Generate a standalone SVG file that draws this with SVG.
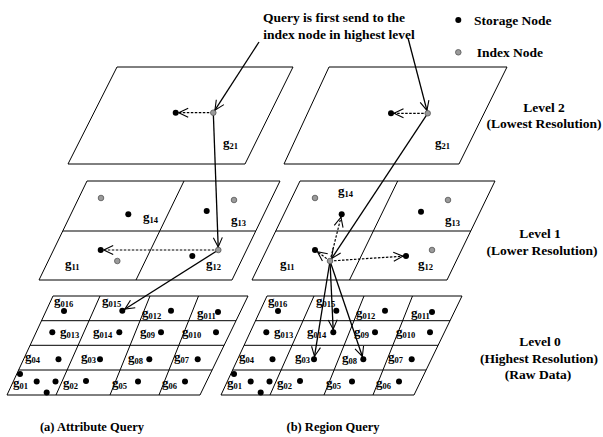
<svg xmlns="http://www.w3.org/2000/svg" width="603" height="437" viewBox="0 0 603 437">
<style>
text{font-family:"Liberation Serif","Times New Roman",serif;font-weight:bold;fill:#000}
.t{font-size:13.5px}
.cap{font-size:12.5px}
.g{font-size:13px}
.s{font-size:8.5px}
.pl{fill:none;stroke:#000;stroke-width:1}
.mid{stroke:#808080;stroke-width:1.8}
.sol{fill:none;stroke:#000;stroke-width:1.3;marker-end:url(#ah)}
.das{fill:none;stroke:#000;stroke-width:1.2;stroke-dasharray:2.5 1.5;marker-end:url(#ah)}
.st{fill:#000}
.ix{fill:#9a9a9a;stroke:#555;stroke-width:0.8}
</style>
<defs>
<marker id="ah" markerUnits="userSpaceOnUse" orient="auto" overflow="visible" markerWidth="1" markerHeight="1" refX="0" refY="0">
<path d="M-12.5,-4.5 L-3,0 L-12.5,4.5" fill="none" stroke="#000" stroke-width="1.1"/>
</marker>
</defs>
<rect width="603" height="437" fill="#fff"/>

<!-- planes -->
<g id="plane-a-l2">
<polygon class="pl" points="117,67 293,67 245,164 68,164"/>
<text class="g" x="223" y="147">g<tspan class="s" dy="2">21</tspan></text>
</g>
<g id="plane-b-l2">
<polygon class="pl" points="329,67 507,67 459,164 284,164"/>
<text class="g" x="435" y="147">g<tspan class="s" dy="2">21</tspan></text>
</g>
<g id="plane-a-l1">
<line class="mid" x1="62.8" y1="231" x2="255.8" y2="231"/>
<polygon class="pl" points="87,181 280,181 232,280 39,280"/>
<line class="pl" x1="184" y1="181" x2="136" y2="280"/>
<text class="g" x="143" y="221">g<tspan class="s" dy="2">14</tspan></text>
<text class="g" x="231" y="224">g<tspan class="s" dy="2">13</tspan></text>
<text class="g" x="65" y="268">g<tspan class="s" dy="2">11</tspan></text>
<text class="g" x="206" y="268">g<tspan class="s" dy="2">12</tspan></text>
</g>
<g id="plane-b-l1">
<line class="mid" x1="275.8" y1="231" x2="470.8" y2="231"/>
<polygon class="pl" points="300,181 495,181 447,280 252,280"/>
<line class="pl" x1="397.7" y1="181" x2="349.5" y2="280"/>
<text class="g" x="338" y="195">g<tspan class="s" dy="2">14</tspan></text>
<text class="g" x="445" y="224">g<tspan class="s" dy="2">13</tspan></text>
<text class="g" x="280" y="268">g<tspan class="s" dy="2">11</tspan></text>
<text class="g" x="418" y="268">g<tspan class="s" dy="2">12</tspan></text>
</g>
<g id="plane-a-l0">
<polygon class="pl" points="53,296 248,296 200,395 7,395"/>
<line class="pl" x1="41.5" y1="320.7" x2="236" y2="320.7"/>
<line class="pl" x1="30.1" y1="345.3" x2="224.1" y2="345.3"/>
<line class="pl" x1="18.6" y1="370" x2="212.1" y2="370"/>
<line class="pl" x1="100" y1="296" x2="56" y2="395"/>
<line class="pl" x1="150" y1="296" x2="110" y2="395"/>
<line class="pl" x1="198.5" y1="296" x2="159" y2="395"/>
<text class="g" x="54" y="305">g<tspan class="s" dy="2">016</tspan></text>
<text class="g" x="102" y="305">g<tspan class="s" dy="2">015</tspan></text>
<text class="g" x="142" y="317">g<tspan class="s" dy="2">012</tspan></text>
<text class="g" x="197" y="317">g<tspan class="s" dy="2">011</tspan></text>
<text class="g" x="60" y="336">g<tspan class="s" dy="2">013</tspan></text>
<text class="g" x="93" y="336">g<tspan class="s" dy="2">014</tspan></text>
<text class="g" x="140" y="336">g<tspan class="s" dy="2">09</tspan></text>
<text class="g" x="182" y="336">g<tspan class="s" dy="2">010</tspan></text>
<text class="g" x="25" y="361">g<tspan class="s" dy="2">04</tspan></text>
<text class="g" x="81" y="361">g<tspan class="s" dy="2">03</tspan></text>
<text class="g" x="128" y="362">g<tspan class="s" dy="2">08</tspan></text>
<text class="g" x="174" y="361">g<tspan class="s" dy="2">07</tspan></text>
<text class="g" x="13" y="387">g<tspan class="s" dy="2">01</tspan></text>
<text class="g" x="63" y="387">g<tspan class="s" dy="2">02</tspan></text>
<text class="g" x="112" y="387">g<tspan class="s" dy="2">05</tspan></text>
<text class="g" x="162" y="387">g<tspan class="s" dy="2">06</tspan></text>
</g>
<g id="plane-b-l0">
<polygon class="pl" points="267,296 462,296 414,395 221,395"/>
<line class="pl" x1="255.5" y1="320.7" x2="450" y2="320.7"/>
<line class="pl" x1="244.1" y1="345.3" x2="438.1" y2="345.3"/>
<line class="pl" x1="232.6" y1="370" x2="426.1" y2="370"/>
<line class="pl" x1="314" y1="296" x2="270" y2="395"/>
<line class="pl" x1="364" y1="296" x2="324" y2="395"/>
<line class="pl" x1="412.5" y1="296" x2="373" y2="395"/>
<text class="g" x="268" y="305">g<tspan class="s" dy="2">016</tspan></text>
<text class="g" x="316" y="305">g<tspan class="s" dy="2">015</tspan></text>
<text class="g" x="356" y="317">g<tspan class="s" dy="2">012</tspan></text>
<text class="g" x="411" y="317">g<tspan class="s" dy="2">011</tspan></text>
<text class="g" x="274" y="336">g<tspan class="s" dy="2">013</tspan></text>
<text class="g" x="307" y="336">g<tspan class="s" dy="2">014</tspan></text>
<text class="g" x="354" y="336">g<tspan class="s" dy="2">09</tspan></text>
<text class="g" x="396" y="336">g<tspan class="s" dy="2">010</tspan></text>
<text class="g" x="239" y="361">g<tspan class="s" dy="2">04</tspan></text>
<text class="g" x="295" y="361">g<tspan class="s" dy="2">03</tspan></text>
<text class="g" x="342" y="362">g<tspan class="s" dy="2">08</tspan></text>
<text class="g" x="388" y="361">g<tspan class="s" dy="2">07</tspan></text>
<text class="g" x="227" y="387">g<tspan class="s" dy="2">01</tspan></text>
<text class="g" x="277" y="387">g<tspan class="s" dy="2">02</tspan></text>
<text class="g" x="326" y="387">g<tspan class="s" dy="2">05</tspan></text>
<text class="g" x="376" y="387">g<tspan class="s" dy="2">06</tspan></text>
</g>

<!-- connectors -->
<g id="connectors">
<line class="sol" x1="259" y1="42" x2="213.3" y2="112.7"/>
<line class="das" x1="213.3" y1="112.7" x2="175.7" y2="112.7"/>
<line class="sol" x1="213.3" y1="112.7" x2="218.3" y2="250"/>
<line class="das" x1="218.3" y1="250" x2="100.7" y2="250"/>
<line class="sol" x1="218.3" y1="250" x2="122.3" y2="310.7"/>
<line class="sol" x1="408" y1="38" x2="427.7" y2="113.3"/>
<line class="das" x1="427.7" y1="113.3" x2="391" y2="113.3"/>
<line class="sol" x1="427.7" y1="113.3" x2="330" y2="261"/>
<line class="das" x1="330" y1="261" x2="341.7" y2="214.3"/>
<line class="das" x1="330" y1="261" x2="315" y2="250"/>
<line class="das" x1="330" y1="261" x2="406" y2="256"/>
<line class="sol" x1="330" y1="261" x2="314" y2="359.3"/>
<line class="sol" x1="330" y1="261" x2="333.3" y2="332.3"/>
<line class="sol" x1="330" y1="261" x2="363.3" y2="359.3"/>
</g>

<!-- nodes level 2 -->
<g id="a2-storage"><circle class="st" cx="175.7" cy="112.7" r="3"/></g>
<g id="a2-index"><circle class="ix" cx="213.3" cy="112.7" r="2.8"/></g>
<g id="b2-storage"><circle class="st" cx="391" cy="113.3" r="3"/></g>
<g id="b2-index"><circle class="ix" cx="427.7" cy="113.3" r="2.8"/></g>
<!-- nodes level 1 (a) -->
<g id="a1-g14-index"><circle class="ix" cx="101" cy="198" r="2.8"/></g>
<g id="a1-g14-storage"><circle class="st" cx="128.3" cy="214.3" r="3"/></g>
<g id="a1-g13-storage"><circle class="st" cx="206.7" cy="211" r="3"/></g>
<g id="a1-g13-index"><circle class="ix" cx="234" cy="200" r="2.8"/></g>
<g id="a1-g11-storage"><circle class="st" cx="100.7" cy="250" r="3"/></g>
<g id="a1-g11-index"><circle class="ix" cx="117.3" cy="261" r="2.8"/></g>
<g id="a1-g12-storage"><circle class="st" cx="192.3" cy="256" r="3"/></g>
<g id="a1-g12-index"><circle class="ix" cx="218.3" cy="250" r="2.8"/></g>
<!-- nodes level 1 (b) -->
<g id="b1-g14-index"><circle class="ix" cx="315" cy="198" r="2.8"/></g>
<g id="b1-g14-storage"><circle class="st" cx="341.7" cy="214.3" r="3"/></g>
<g id="b1-g13-storage"><circle class="st" cx="421" cy="211.7" r="3"/></g>
<g id="b1-g13-index"><circle class="ix" cx="448" cy="200" r="2.8"/></g>
<g id="b1-g11-storage"><circle class="st" cx="315" cy="250" r="3"/></g>
<g id="b1-g11-index"><circle class="ix" cx="330" cy="261" r="2.8"/></g>
<g id="b1-g12-storage"><circle class="st" cx="406" cy="256" r="3"/></g>
<g id="b1-g12-index"><circle class="ix" cx="432" cy="250" r="2.8"/></g>
<!-- nodes level 0 (a) -->
<g id="a0-nodes">
<g id="a0-g016"><circle class="st" cx="64" cy="311" r="3"/></g>
<g id="a0-g015"><circle class="st" cx="122.3" cy="310.7" r="3"/></g>
<g id="a0-g012"><circle class="st" cx="171" cy="310.7" r="3"/></g>
<g id="a0-g011"><circle class="st" cx="218" cy="312" r="3"/></g>
<g id="a0-g013"><circle class="st" cx="52.3" cy="332.3" r="3"/></g>
<g id="a0-g014"><circle class="st" cx="119.3" cy="332.3" r="3"/></g>
<g id="a0-g09"><circle class="st" cx="161" cy="332.3" r="3"/></g>
<g id="a0-g010"><circle class="st" cx="216" cy="332.3" r="3"/></g>
<g id="a0-g04"><circle class="st" cx="58.5" cy="359.3" r="3"/></g>
<g id="a0-g03"><circle class="st" cx="100" cy="359.3" r="3"/></g>
<g id="a0-g08"><circle class="st" cx="149.3" cy="359.3" r="3"/></g>
<g id="a0-g07"><circle class="st" cx="197.7" cy="359.3" r="3"/></g>
<g id="a0-g01-1"><circle class="st" cx="20" cy="374" r="3"/></g>
<g id="a0-g01-2"><circle class="st" cx="36.7" cy="381.5" r="3"/></g>
<g id="a0-g01-3"><circle class="st" cx="55.5" cy="381.5" r="3"/></g>
<g id="a0-g01-4"><circle class="st" cx="46.7" cy="392.5" r="3"/></g>
<g id="a0-g02"><circle class="st" cx="86" cy="381" r="3"/></g>
<g id="a0-g05"><circle class="st" cx="138" cy="381.5" r="3"/></g>
<g id="a0-g06"><circle class="st" cx="185" cy="381.5" r="3"/></g>
</g>
<!-- nodes level 0 (b) -->
<g id="b0-nodes">
<g id="b0-g016"><circle class="st" cx="278" cy="311" r="3"/></g>
<g id="b0-g015"><circle class="st" cx="336.3" cy="310.7" r="3"/></g>
<g id="b0-g012"><circle class="st" cx="385" cy="310.7" r="3"/></g>
<g id="b0-g011"><circle class="st" cx="432" cy="312" r="3"/></g>
<g id="b0-g013"><circle class="st" cx="266.3" cy="332.3" r="3"/></g>
<g id="b0-g014"><circle class="st" cx="333.3" cy="332.3" r="3"/></g>
<g id="b0-g09"><circle class="st" cx="375" cy="332.3" r="3"/></g>
<g id="b0-g010"><circle class="st" cx="430" cy="332.3" r="3"/></g>
<g id="b0-g04"><circle class="st" cx="272.5" cy="359.3" r="3"/></g>
<g id="b0-g03"><circle class="st" cx="314" cy="359.3" r="3"/></g>
<g id="b0-g08"><circle class="st" cx="363.3" cy="359.3" r="3"/></g>
<g id="b0-g07"><circle class="st" cx="411.7" cy="359.3" r="3"/></g>
<g id="b0-g01-1"><circle class="st" cx="234" cy="374" r="3"/></g>
<g id="b0-g01-2"><circle class="st" cx="250.7" cy="381.5" r="3"/></g>
<g id="b0-g01-3"><circle class="st" cx="269.5" cy="381.5" r="3"/></g>
<g id="b0-g01-4"><circle class="st" cx="260.7" cy="392.5" r="3"/></g>
<g id="b0-g02"><circle class="st" cx="300" cy="381" r="3"/></g>
<g id="b0-g05"><circle class="st" cx="352" cy="381.5" r="3"/></g>
<g id="b0-g06"><circle class="st" cx="399" cy="381.5" r="3"/></g>
</g>

<!-- legend -->
<g id="legend">
<circle class="st" cx="458.3" cy="20" r="3"/>
<text class="t" x="474" y="24.5">Storage Node</text>
<circle class="ix" cx="458.3" cy="52.3" r="2.8"/>
<text class="t" x="476.7" y="56.7">Index Node</text>
</g>

<!-- annotations -->
<g id="query-note">
<text class="t" x="334" y="21.5" text-anchor="middle">Query is first send to the</text>
<text class="t" x="339" y="39" text-anchor="middle">index node in highest level</text>
</g>
<g id="level-labels">
<text class="t" x="544" y="111.7" text-anchor="middle">Level 2</text>
<text class="t" x="544" y="127.5" text-anchor="middle">(Lowest Resolution)</text>
<text class="t" x="540" y="238" text-anchor="middle">Level 1</text>
<text class="t" x="542" y="254.5" text-anchor="middle">(Lower Resolution)</text>
<text class="t" x="540" y="346" text-anchor="middle">Level 0</text>
<text class="t" x="539" y="362.7" text-anchor="middle">(Highest Resolution)</text>
<text class="t" x="538" y="379.3" text-anchor="middle">(Raw Data)</text>
</g>
<g id="captions">
<text class="cap" x="92" y="431" text-anchor="middle">(a) Attribute Query</text>
<text class="cap" x="333" y="431" text-anchor="middle">(b) Region Query</text>
</g>
</svg>
